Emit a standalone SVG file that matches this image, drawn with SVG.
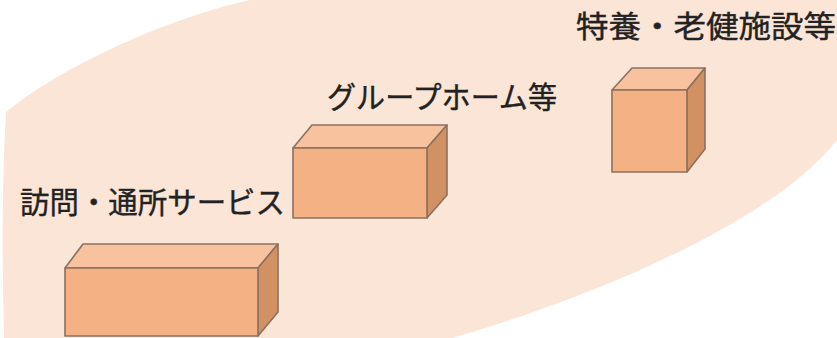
<svg xmlns="http://www.w3.org/2000/svg" width="837" height="338" viewBox="0 0 837 338">
<style>
.front{fill:#f4b183;stroke:#8c7160;stroke-width:1.6;stroke-linejoin:round}
.top{fill:#f7c29d;stroke:#8c7160;stroke-width:1.6;stroke-linejoin:round}
.side{fill:#d29163;stroke:#8c7160;stroke-width:1.6;stroke-linejoin:round}
.lbl{font-family:"Noto Sans CJK JP","Noto Sans CJK SC",sans-serif;font-size:30px;fill:#222222;stroke:#222222;stroke-width:0.4}
</style>
<rect width="837" height="338" fill="#ffffff"/>
<path id="area" d="M250,0 C180,15 70,60 6,112 C2,180 2,260 4,338 L452,338 C600,295 775,220 837,140 L837,0 Z" fill="#fbe5d6"/>
<g id="box-houmon">
<polygon class="top" points="65,268 83,244 278,244 258,268"/>
<polygon class="side" points="258,268 278,244 278,312 258,336"/>
<rect class="front" x="65" y="268" width="193" height="68"/>
</g>
<g id="box-group">
<polygon class="top" points="293,148 312,125 447,125 427,148"/>
<polygon class="side" points="427,148 447,125 447,195 427,218"/>
<rect class="front" x="293" y="148" width="134" height="70"/>
</g>
<g id="box-tokuyou">
<polygon class="top" points="612,90 632,68 705,68 687,90"/>
<polygon class="side" points="687,90 705,68 705,149 687,172"/>
<rect class="front" x="612" y="90" width="75" height="82"/>
</g>
<g id="labels">
<text class="lbl" x="576" y="37" textLength="260" lengthAdjust="spacingAndGlyphs">特養・老健施設等</text>
<text class="lbl" x="327" y="108" textLength="230" lengthAdjust="spacingAndGlyphs">グループホーム等</text>
<text class="lbl" x="20" y="213" textLength="265" lengthAdjust="spacingAndGlyphs">訪問・通所サービス</text>
</g>
</svg>
